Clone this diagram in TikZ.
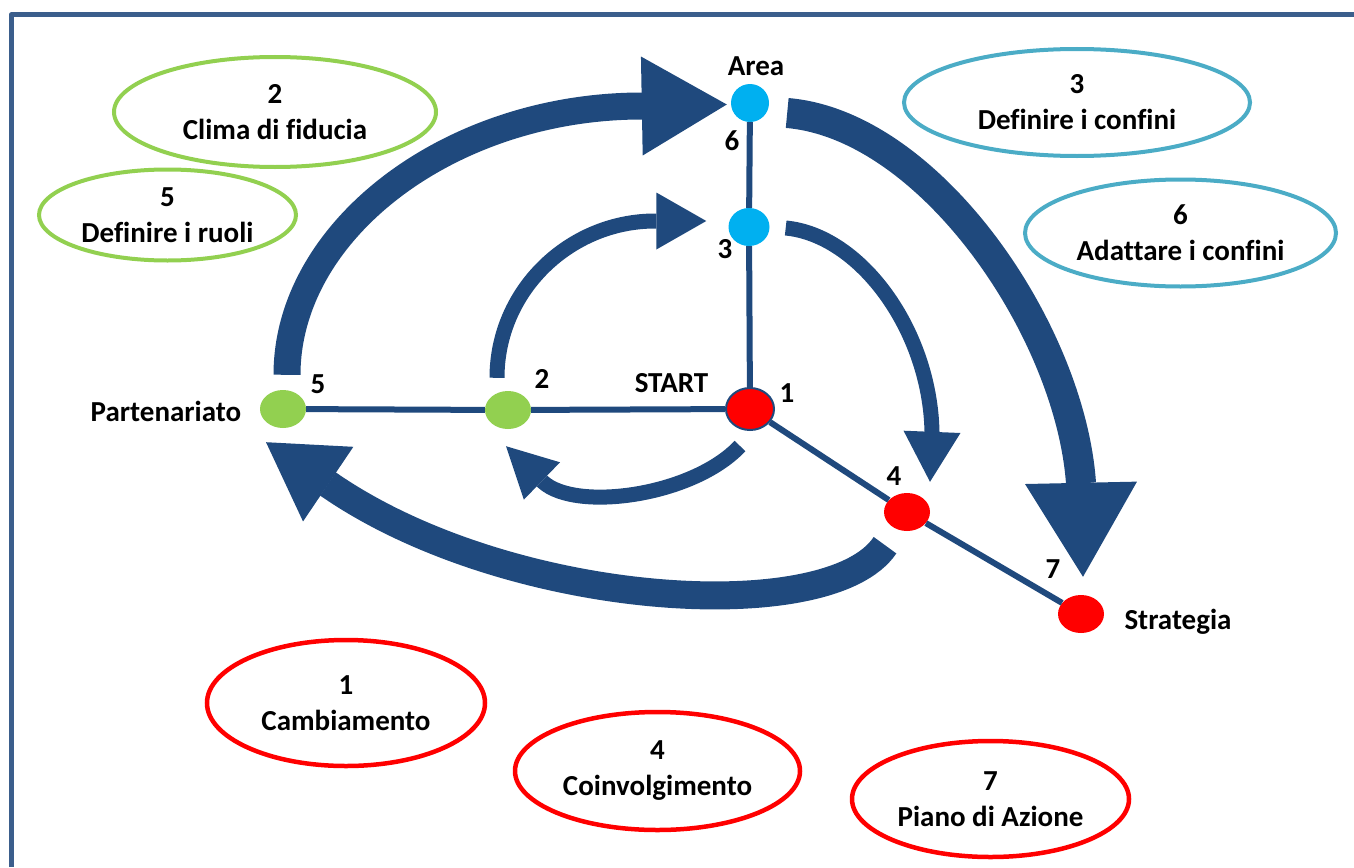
\documentclass[tikz,border=0pt]{standalone}
\usepackage{fontspec}
\setmainfont{Carlito}[Ligatures=NoCommon]
\usetikzlibrary{shapes.geometric,arrows.meta,calc}
\definecolor{navy}{HTML}{1F497D}
\definecolor{framec}{HTML}{3B5E8C}
\definecolor{lgreen}{HTML}{92D050}
\definecolor{tealc}{HTML}{4BACC6}
\definecolor{sky}{HTML}{00B0F0}
\definecolor{redc}{HTML}{FF0000}
\begin{document}
\begin{tikzpicture}[x=1pt,y=-1pt,
  every node/.style={font=\fontsize{29}{36}\selectfont\bfseries},
  ell/.style={ellipse, draw, line width=4pt, align=center, inner sep=0pt},
  redell/.style={ell, draw=redc, line width=4.5pt},
  dot/.style={ellipse, inner sep=0pt, minimum width=46pt, minimum height=38pt},
  lbl/.style={inner sep=0pt, anchor=base},
  axisline/.style={navy, line width=6pt},
  bigarr/.style={navy, line width=28pt},
  midarr/.style={navy, line width=15pt},
]
\useasboundingbox (0,0) rectangle (1354,867);
\draw[framec, line width=5pt, line join=round] (11,867) -- (11,15) -- (1354,15);

% ellipses
\node[ell, draw=lgreen, minimum width=322pt, minimum height=110pt] (e2) at (275,112) {2\\Clima di fiducia};
\node[ell, draw=lgreen, minimum width=257pt, minimum height=91pt] (e5) at (167.5,215) {5\\Definire i ruoli};
\node[ell, draw=tealc, minimum width=346pt, minimum height=107pt] (e3) at (1077,102.5) {3\\Definire i confini};
\node[ell, draw=tealc, minimum width=311pt, minimum height=107pt] (e6) at (1180.5,233) {6\\Adattare i confini};
\node[redell, minimum width=278pt, minimum height=126pt] (e1) at (346,703) {1\\Cambiamento};
\node[redell, minimum width=285pt, minimum height=118pt] (e4) at (657.5,771) {4\\Coinvolgimento};
\node[redell, minimum width=277pt, minimum height=116pt] (e7) at (990.5,799) {7\\Piano di Azione};

% dots
\node[dot, fill=lgreen] (P) at (283,409) {};
\node[dot, fill=lgreen] (d2) at (508,410) {};
\node[dot, fill=redc, draw=navy, line width=2pt, minimum width=48pt, minimum height=42pt] (O) at (750,409) {};
\node[dot, fill=sky, minimum width=41pt, minimum height=38pt] (d3) at (749,227) {};
\node[dot, fill=sky, minimum width=38pt, minimum height=38pt] (A) at (750,103) {};
\node[dot, fill=redc] (d4) at (907,512) {};
\node[dot, fill=redc] (S) at (1081,614) {};

% axes
\draw[axisline] (P) -- (d2) -- (O);
\draw[axisline] (A) -- (d3) -- (O);
\draw[axisline] (O) -- (d4) -- (S);

% arrows
\draw[bigarr, line width=27pt, -{Triangle[length=85pt,width=99pt,line width=0pt]}]
  ($(P.north)+(4,-15)$) .. controls (287,230) and (450,106) .. (642,106) -- ($(A.west)+(-4,1.5)$);
\draw[bigarr, line width=30pt, -{Triangle[length=94pt,width=112pt,line width=0pt]}]
  ($(A.east)+(18,10)$) .. controls (930,125) and (1070,330) .. (1081,483) -- ($(S.north)+(2,-18)$);
\draw[midarr, -{Triangle[length=50pt,width=57pt,line width=0pt]}]
  ($(d2.north)+(-11,-13)$) .. controls (497,290) and (570,221) .. (655,221) -- ($(d3.west)+(-22,-6)$);
\draw[midarr, -{Triangle[length=50pt,width=57pt,line width=0pt]}]
  ($(d3.east)+(16,1)$) .. controls (860,235) and (930,330) .. (932,432) -- ($(d4.north)+(23,-11)$);
\draw[midarr, -{Triangle[length=50pt,width=52pt,line width=0pt]}]
  ($(O.south)+(-10,15)$) .. controls (693,496) and (576,512) .. (543,482) -- ($(d2.south)+(-2,17)$);
\draw[bigarr, line width=28pt, -{Triangle[length=75pt,width=90pt,line width=0pt]}]
  ($(d4.south)+(-22,14)$) .. controls (830,628) and (508,609) .. (328,484) -- ($(P.south)+(-17,14)$);

% labels
\node[lbl] (tArea) at (756,75) {Area};
\node[lbl] (t6) at (732,150) {6};
\node[lbl] (t3) at (725,258) {3};
\node[lbl] (tStart) at (671.5,392) {START};
\node[lbl] (t1) at (787,402) {1};
\node[lbl] (t2) at (542,388) {2};
\node[lbl] (t5) at (318,393) {5};
\node[lbl] (t4) at (894,485) {4};
\node[lbl] (t7) at (1053,578) {7};
\node[lbl] (tPart) at (166,421) {Partenariato};
\node[lbl] (tStrat) at (1178,629) {Strategia};
\end{tikzpicture}
\end{document}
